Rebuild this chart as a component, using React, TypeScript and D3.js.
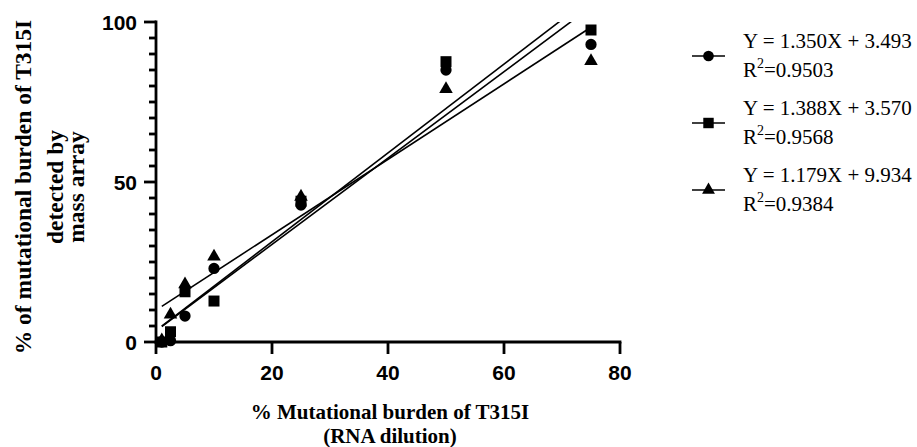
import * as d3 from "d3";

// % mutational burden of T315I (RNA dilution) vs mass array result, three replicates
const dilution = [1, 2.5, 5, 10, 25, 50, 75];
const circleVals = [0, 0.4, 8.1, 23, 42.8, 85, 93];
const squareVals = [0, 3.2, 15.7, 12.8, 44, 87.6, 97.5];
const triangleVals = [0.5, 8.6, 18, 26.7, 45.4, 79, 87.8];

const fits = [
  { slope: 1.35, intercept: 3.493, eq: "Y = 1.350X + 3.493", r2: "0.9503", shape: "circle" },
  { slope: 1.388, intercept: 3.57, eq: "Y = 1.388X + 3.570", r2: "0.9568", shape: "square" },
  { slope: 1.179, intercept: 9.934, eq: "Y = 1.179X + 9.934", r2: "0.9384", shape: "triangle" },
];

const xTicks = [0, 20, 40, 60, 80];
const yTicks = [0, 50, 100];

const W = 917;
const H = 447;
const sans = "'Liberation Sans', Arial, sans-serif";
const serif = "'Liberation Serif', 'Times New Roman', serif";

const symbolFor: Record<string, d3.SymbolType> = {
  circle: d3.symbolCircle,
  square: d3.symbolSquare,
  triangle: d3.symbolTriangle,
};
const sizeFor: Record<string, number> = { circle: 100, square: 121, triangle: 80 };

export default function App() {
  const x = d3.scaleLinear().domain([0, 80]).range([156, 620]);
  const y = d3.scaleLinear().domain([0, 100]).range([342, 22]);
  const minorY = d3.range(0, 101, 5).filter((v) => v % 50 !== 0);

  const series = [circleVals, squareVals, triangleVals];
  const xMin = d3.min(dilution)!;
  const xMax = d3.max(dilution)!;

  const sym = (shape: string, s?: number) =>
    d3.symbol().type(symbolFor[shape]).size(s ?? sizeFor[shape])()!;

  return (
    <div style={{ position: "fixed", left: 0, top: 0 }}>
      <svg width={W} height={H} style={{ display: "block", background: "#fff" }}>
        <defs>
          <clipPath id="plot">
            <rect x={x(0)} y={y(100)} width={x(80) - x(0) + 20} height={y(0) - y(100)} />
          </clipPath>
        </defs>

        {/* regression lines, clipped at the top of the y axis */}
        <g clipPath="url(#plot)">
          {fits.map((f, i) => (
            <line
              key={i}
              x1={x(xMin)}
              y1={y(f.slope * xMin + f.intercept)}
              x2={x(xMax)}
              y2={y(f.slope * xMax + f.intercept)}
              stroke="#000"
              strokeWidth={1.6}
            />
          ))}
        </g>

        {/* axes */}
        <g stroke="#000" strokeWidth={2.8} fill="none">
          <line x1={x(0)} x2={x(0)} y1={y(100) - 1.4} y2={y(0) + 1.4} />
          <line x1={x(0) - 1.4} x2={x(80) + 1.4} y1={y(0)} y2={y(0)} />
          {yTicks.map((t) => (
            <line key={"ym" + t} x1={x(0) - 12} x2={x(0)} y1={y(t)} y2={y(t)} />
          ))}
          {minorY.map((t) => (
            <line key={"yn" + t} x1={x(0) - 7} x2={x(0)} y1={y(t)} y2={y(t)} />
          ))}
          {xTicks.map((t) => (
            <line key={"xm" + t} x1={x(t)} x2={x(t)} y1={y(0)} y2={y(0) + 12} />
          ))}
        </g>

        {/* points */}
        {series.map((vals, si) =>
          vals.map((v, i) => (
            <path
              key={si + "-" + i}
              d={sym(fits[si].shape)}
              transform={`translate(${x(dilution[i])},${y(v)})`}
              fill="#000"
            />
          ))
        )}

        {/* tick labels */}
        <g fontFamily={sans} fontWeight="bold" fontSize={21} fill="#000">
          {yTicks.map((t) => (
            <text key={"yl" + t} x={x(0) - 19} y={y(t)} dy="0.36em" textAnchor="end">
              {t}
            </text>
          ))}
          {xTicks.map((t) => (
            <text key={"xl" + t} x={x(t)} y={y(0) + 38} textAnchor="middle">
              {t}
            </text>
          ))}
        </g>

        {/* axis titles */}
        <g fontFamily={serif} fontWeight="bold" fill="#000" textAnchor="middle">
          <text x={390} y={419} fontSize={21}>% Mutational burden of T315I</text>
          <text x={390} y={443} fontSize={21}>(RNA dilution)</text>
          <g transform="translate(0,187) rotate(-90)" fontSize={23.5}>
            <text x={0} y={31}>% of mutational burden of T315I</text>
            <text x={0} y={63}>detected by</text>
            <text x={0} y={84}>mass array</text>
          </g>
        </g>

        {/* legend */}
        <g fontFamily={serif} fontSize={21} fill="#000">
          {fits.map((f, i) => {
            const top = 48 + i * 67;
            const cy = top + 8;
            return (
              <g key={"lg" + i}>
                <line x1={692} x2={725} y1={cy} y2={cy} stroke="#000" strokeWidth={1.6} />
                <path d={sym(f.shape, sizeFor[f.shape] * 0.9)} transform={`translate(708.5,${cy})`} fill="#000" />
                <text x={743} y={top}>{f.eq}</text>
                <text x={743} y={top + 29}>
                  R<tspan fontSize={14} dy={-9}>2</tspan>
                  <tspan dy={9}>={f.r2}</tspan>
                </text>
              </g>
            );
          })}
        </g>
      </svg>
    </div>
  );
}
